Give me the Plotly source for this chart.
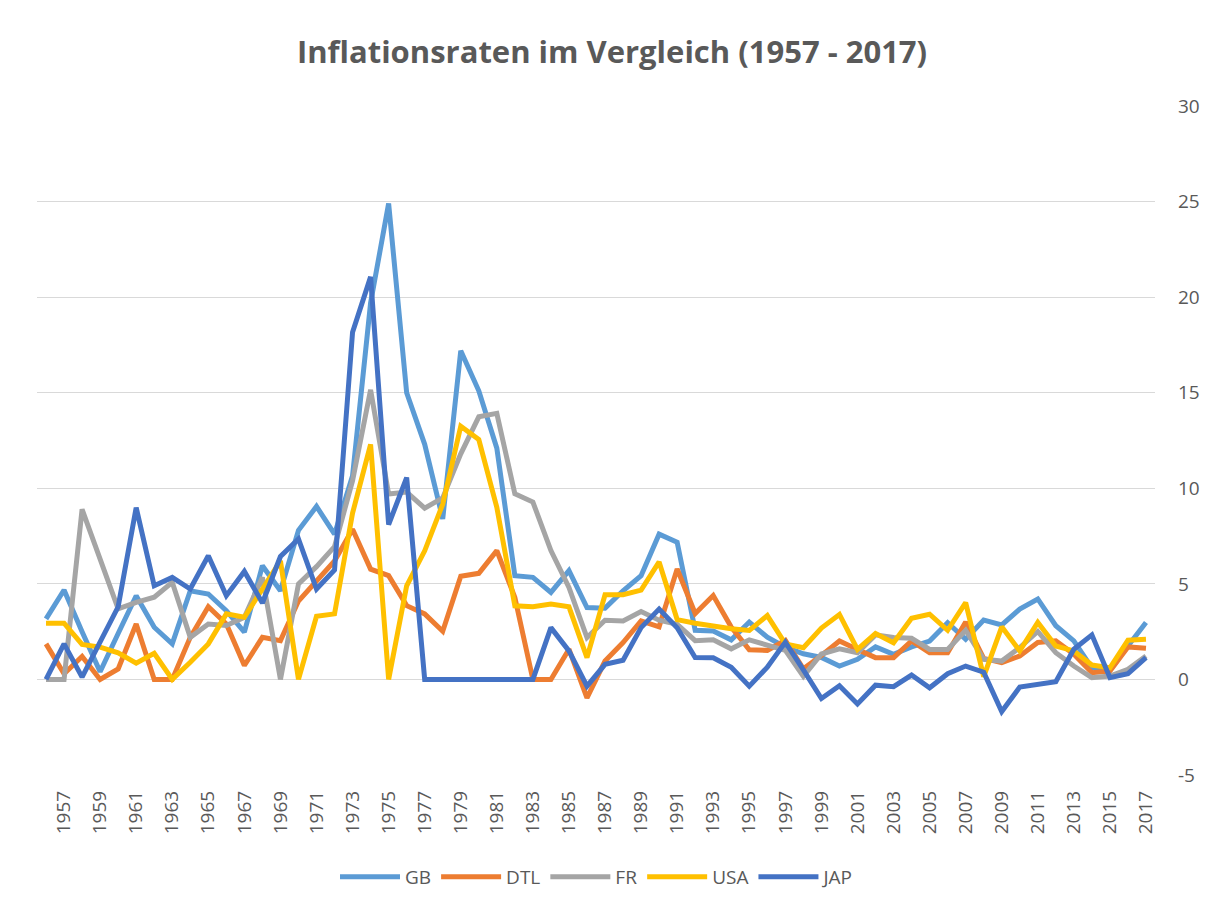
import plotly.graph_objects as go

years = list(range(1956, 2018))

gb = [3.17, 4.68, 2.5, 0.4, 2.4, 4.38, 2.73, 1.86, 4.64, 4.47,
      3.6, 2.47, 5.95, 4.64, 7.8, 9.05, 7.6, 10.65, 19.7, 24.9,
      15.0, 12.3, 8.4, 17.2, 15.1, 12.1, 5.43, 5.34, 4.55, 5.69,
      3.76, 3.73, 4.64, 5.43, 7.6, 7.18, 2.57, 2.53, 2.07, 3.0,
      2.21, 1.69, 1.34, 1.15, 0.7, 1.05, 1.7, 1.31, 1.7, 2.01,
      2.97, 2.1, 3.11, 2.85, 3.68, 4.21, 2.81, 2.02, 0.61, 0.5,
      1.75, 2.98]

dtl = [1.86, 0.3, 1.2, 0.0, 0.55, 2.9, 0.0, 0.0, 2.2, 3.8,
       2.9, 0.73, 2.2, 2.03, 4.1, 5.2, 6.2, 7.86, 5.77, 5.43,
       3.86, 3.43, 2.52, 5.4, 5.55, 6.74, 4.29, 0.0, 0.0, 1.58,
       -0.96, 0.96, 1.93, 3.06, 2.75, 5.78, 3.45, 4.39, 2.74, 1.55,
       1.52, 2.04, 0.56, 1.25, 2.01, 1.57, 1.14, 1.14, 2.01, 1.4,
       1.4, 3.0, 1.1, 0.88, 1.23, 1.93, 2.02, 1.32, 0.35, 0.44,
       1.7, 1.63]

fr = [0.0, 0.0, 8.9, 6.38, 3.69, 4.03, 4.3, 5.08, 2.2, 2.9,
      2.82, 3.25, 5.34, 0.0, 4.99, 5.9, 6.95, 10.4, 15.15, 9.7,
      9.8, 8.96, 9.5, 11.8, 13.74, 13.92, 9.71, 9.28, 6.74, 4.81,
      2.19, 3.1, 3.06, 3.55, 3.1, 2.89, 2.03, 2.07, 1.6, 2.07,
      1.78, 1.52, 0.16, 1.33, 1.6, 1.4, 2.33, 2.19, 2.15, 1.57,
      1.57, 2.57, 1.05, 0.96, 1.67, 2.51, 1.4, 0.7, 0.09, 0.18,
      0.53, 1.23]

usa = [2.94, 2.94, 1.83, 1.69, 1.39, 0.85, 1.37, 0.0, 0.9, 1.86,
       3.43, 3.25, 4.73, 6.2, 0.0, 3.3, 3.43, 8.7, 12.3, 0.0,
       4.9, 6.73, 9.17, 13.25, 12.55, 9.0, 3.85, 3.8, 3.94, 3.8,
       1.14, 4.43, 4.43, 4.67, 6.15, 3.13, 2.94, 2.77, 2.65, 2.56,
       3.34, 1.86, 1.66, 2.69, 3.4, 1.57, 2.4, 1.92, 3.2, 3.41,
       2.57, 4.02, 0.15, 2.75, 1.49, 2.98, 1.75, 1.49, 0.75, 0.61,
       2.05, 2.1]

jap = [0.0, 1.86, 0.12, 2.0, 3.8, 8.99, 4.9, 5.34, 4.73, 6.47,
       4.38, 5.65, 4.0, 6.43, 7.35, 4.73, 5.73, 18.17, 21.06, 8.1,
       10.56, 0.0, 0.0, 0.0, 0.0, 0.0, 0.0, 0.0, 2.71, 1.49,
       -0.35, 0.79, 1.0, 2.71, 3.68, 2.7, 1.15, 1.13, 0.64, -0.35,
       0.64, 1.95, 0.5, -1.0, -0.33, -1.28, -0.3, -0.38, 0.23, -0.44,
       0.3, 0.7, 0.38, -1.68, -0.4, -0.23, -0.12, 1.58, 2.33, 0.09,
       0.3, 1.14]

series_names = ["GB", "DTL", "FR", "USA", "JAP"]
series_values = [gb, dtl, fr, usa, jap]
series_colors = ["#5B9BD5", "#ED7D31", "#A5A5A5", "#FFC000", "#4472C4"]

tick_years = list(range(1957, 2018, 2))
tick_labels = [str(y) for y in tick_years]
y_ticks = [-5, 0, 5, 10, 15, 20, 25, 30]
y_tick_labels = ["-5", "0", "5", "10", "15", "20", "25", "30"]

FONT = "Open Sans, sans-serif"
TXT = "#595959"

fig = go.Figure()
for name, vals, col in zip(series_names, series_values, series_colors):
    fig.add_trace(go.Scatter(
        x=years, y=vals, name=name, mode="lines",
        line=dict(color=col, width=5),
    ))

W, H = 1209, 902
PL, PR = 29, 1147
fig.update_layout(
    width=W, height=H,
    margin=dict(l=PL, r=W - PR, t=98, b=H - 767),
    paper_bgcolor="white", plot_bgcolor="white",
    font=dict(family=FONT, color=TXT, size=18),
    title=dict(
        text="<b>Inflationsraten im Vergleich (1957 - 2017)</b>",
        x=(612 - 8) / W, xanchor="center", y=1 - 44 / H, yanchor="middle",
        font=dict(family=FONT, size=31, color=TXT),
    ),
    showlegend=True,
    legend=dict(
        orientation="h", x=(597 - 8 - PL) / (PR - PL), xanchor="center",
        y=-(869 - 767) / 669, yanchor="middle",
        font=dict(family=FONT, size=19, color=TXT),
        itemwidth=60, tracegroupgap=0,
    ),
    xaxis=dict(
        range=[1955.5, 2017.5],
        tickmode="array", tickvals=tick_years, ticktext=tick_labels,
        tickangle=-90, showgrid=False, zeroline=False,
        showline=False, ticks="", ticklabelstandoff=11,
        tickfont=dict(family=FONT, size=19, color=TXT),
    ),
    yaxis=dict(
        side="right", range=[-5, 30],
        tickmode="array", tickvals=y_ticks, ticktext=y_tick_labels,
        showgrid=True, gridcolor="#D9D9D9", gridwidth=1.3,
        zeroline=False, showline=False, ticks="",
        ticklabelstandoff=22,
        tickfont=dict(family=FONT, size=19, color=TXT),
    ),
)

fig.write_html("out.html")
